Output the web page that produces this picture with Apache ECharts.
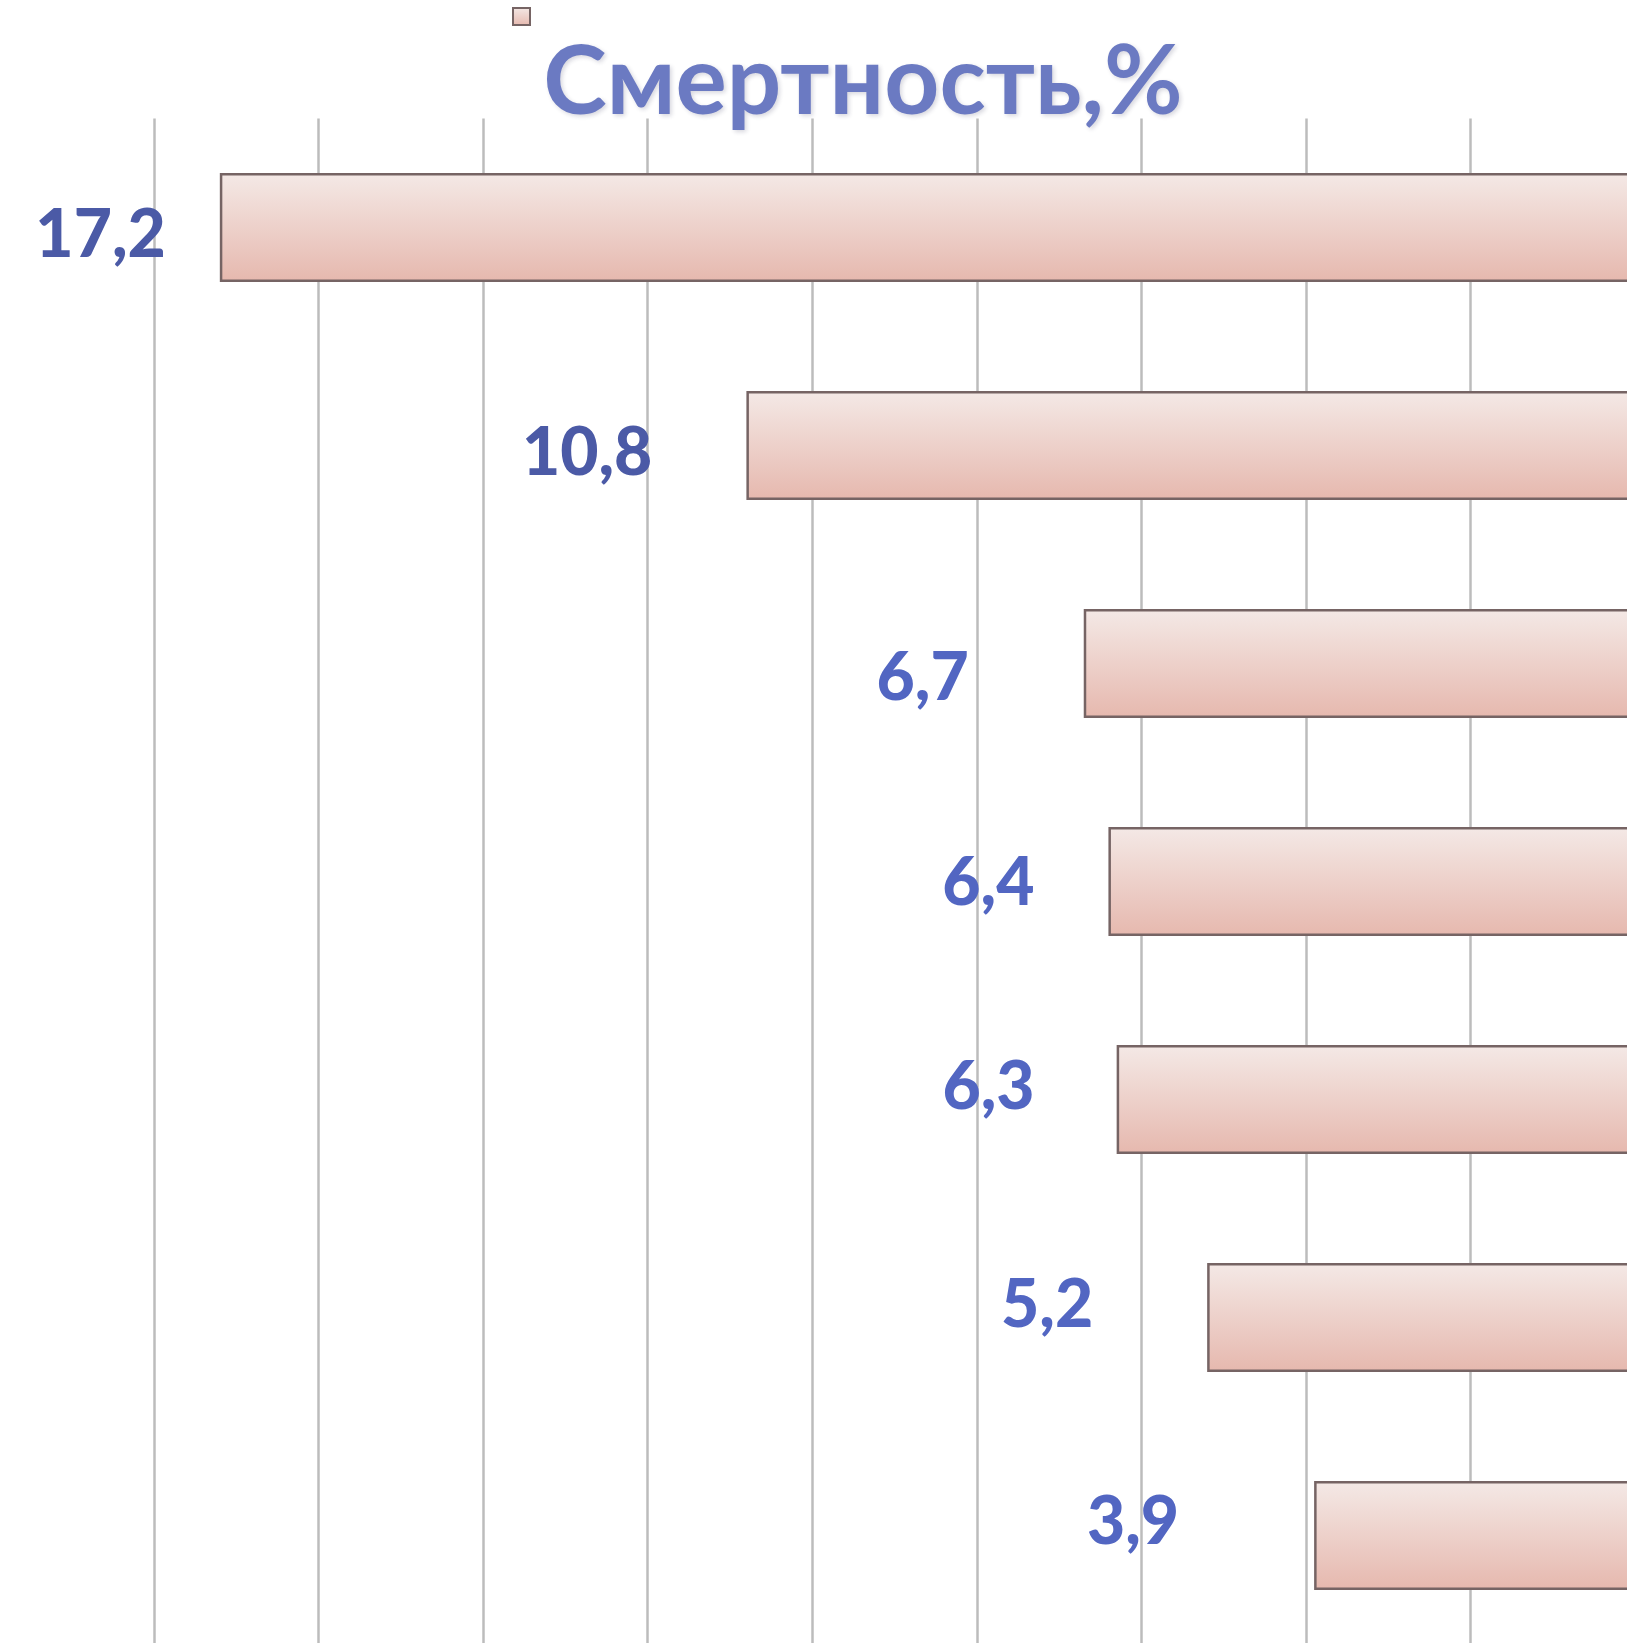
<!DOCTYPE html>
<html>
<head>
<meta charset="utf-8">
<title>Смертность,%</title>
<script src="https://cdn.jsdelivr.net/npm/echarts@6/dist/echarts.min.js"></script>
<style>
  html, body { margin: 0; padding: 0; background: #ffffff; }
  #chart { width: 1627px; height: 1643px; }
</style>
</head>
<body>
<div id="chart"></div>
<script>
// Mortality by group, top to bottom
const categories = ['1', '2', '3', '4', '5', '6', '7'];
const mortality = [17.2, 10.8, 6.7, 6.4, 6.3, 5.2, 3.9];
const seriesName = 'Смертность,%';

// Value axis: 0 on the right, growing to the left
const axisMin = 0;
const axisMax = 18;
const axisStep = 2;

// Hand-placed value labels: [gap to bar start, vertical shift]
const labelPlacement = [
  [54, 8], [94, 8], [115, 15], [74, 2], [82, -12], [114, -12], [135, -13]
];
const labelColors = ['#4b5aa6', '#4b5aa6', '#5266c2', '#5266c2', '#5266c2', '#5266c2', '#5266c2'];

const barFill = new echarts.graphic.LinearGradient(0, 0, 0, 1, [
  { offset: 0, color: '#f4e9e6' },
  { offset: 1, color: '#e6b8ae' }
]);

const chart = echarts.init(document.getElementById('chart'), null, { renderer: 'canvas' });

chart.setOption({
  backgroundColor: '#ffffff',
  animation: false,
  title: {
    text: seriesName,
    left: 858,
    top: 30,
    textAlign: 'center',
    textStyle: {
      fontFamily: 'Lato',
      fontWeight: 'bold',
      fontSize: 96,
      color: '#6b7ac2',
      textShadowColor: 'rgba(40,40,80,0.18)',
      textShadowBlur: 4,
      textShadowOffsetX: 2,
      textShadowOffsetY: 2
    }
  },
  legend: {
    left: 512,
    top: 7,
    padding: 0,
    icon: 'rect',
    itemWidth: 17,
    itemHeight: 17,
    formatter: () => '',
    itemStyle: { color: barFill, borderColor: '#766464', borderWidth: 2 },
    data: [seriesName]
  },
  // the zero line sits just past the right edge of the canvas
  grid: {
    left: 154, width: 1481, top: 118.5, height: 1526,
    containLabel: false,
    outerBoundsMode: 'none'
  },
  xAxis: {
    type: 'value',
    inverse: true,
    min: axisMin,
    max: axisMax,
    interval: axisStep,
    axisLine: { show: false },
    axisTick: { show: false },
    axisLabel: { show: false },
    splitLine: { show: true, lineStyle: { color: '#bcbcbc', width: 2.5 } }
  },
  yAxis: {
    type: 'category',
    inverse: true,
    data: categories,
    axisLine: { show: false },
    axisTick: { show: false },
    axisLabel: { show: false },
    splitLine: { show: false }
  },
  series: [{
    name: seriesName,
    type: 'bar',
    barWidth: '50%',
    itemStyle: { color: barFill, borderColor: '#766464', borderWidth: 2.5 },
    data: mortality.map((v, i) => ({
      value: v,
      label: {
        show: true,
        position: 'left',
        distance: labelPlacement[i][0],
        offset: [0, labelPlacement[i][1]],
        formatter: (p) => String(p.value).replace('.', ','),
        fontFamily: 'Lato',
        fontWeight: 900,
        fontSize: 66,
        color: labelColors[i]
      }
    }))
  }]
});
</script>
</body>
</html>
